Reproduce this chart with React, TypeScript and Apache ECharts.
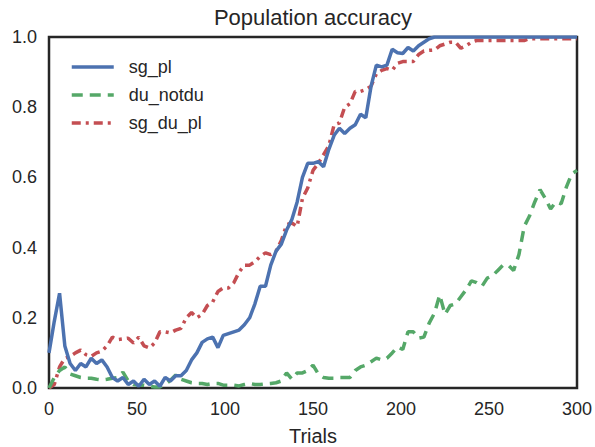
import React, { useEffect, useRef } from "react";
import * as echarts from "echarts";

const trials: number[] = [];
for (let t = 0; t <= 300; t += 3) trials.push(t);

const sgPl = [
  0.10, 0.19, 0.27, 0.12, 0.07, 0.05, 0.07, 0.06, 0.085, 0.07,
  0.08, 0.06, 0.03, 0.02, 0.03, 0.01, 0.02, 0.005, 0.025, 0.01,
  0.02, 0.005, 0.03, 0.02, 0.035, 0.035, 0.05, 0.08, 0.10, 0.13,
  0.14, 0.145, 0.115, 0.15, 0.155, 0.16, 0.165, 0.18, 0.20, 0.24,
  0.29, 0.29, 0.35, 0.39, 0.41, 0.45, 0.48, 0.53, 0.60, 0.64,
  0.64, 0.645, 0.63, 0.68, 0.72, 0.74, 0.725, 0.74, 0.75, 0.78,
  0.77, 0.86, 0.92, 0.915, 0.92, 0.965, 0.955, 0.953, 0.97, 0.96,
  0.975, 0.985, 0.995, 1, 1, 1, 1, 1, 1, 1,
  1, 1, 1, 1, 1, 1, 1, 1, 1, 1,
  1, 1, 1, 1, 1, 1, 1, 1, 1, 1,
  1,
];

const duNotdu = [
  0.0, 0.03, 0.05, 0.06, 0.04, 0.035, 0.03, 0.028, 0.028, 0.025,
  0.023, 0.025, 0.028, 0.03, 0.045, 0.02, 0.01, 0.008, 0.008, 0.005,
  0.003, 0.003, 0.01, 0.022, 0.037, 0.025, 0.02, 0.015, 0.013, 0.013,
  0.01, 0.013, 0.013, 0.008, 0.008, 0.008, 0.006, 0.01, 0.013, 0.01,
  0.01, 0.012, 0.013, 0.015, 0.02, 0.043, 0.025, 0.043, 0.043, 0.05,
  0.065, 0.04, 0.03, 0.028, 0.028, 0.03, 0.03, 0.03, 0.05, 0.06,
  0.065, 0.075, 0.085, 0.08, 0.085, 0.10, 0.117, 0.11, 0.16, 0.16,
  0.142, 0.145, 0.185, 0.213, 0.265, 0.21, 0.235, 0.24, 0.26, 0.28,
  0.305, 0.30, 0.29, 0.313, 0.32, 0.335, 0.35, 0.35, 0.335, 0.38,
  0.46, 0.49, 0.53, 0.565, 0.54, 0.51, 0.53, 0.525, 0.573, 0.61,
  0.62,
];

const sgDuPl = [
  0.0, 0.01, 0.06, 0.085, 0.09, 0.10, 0.108, 0.095, 0.09, 0.10,
  0.105, 0.12, 0.145, 0.138, 0.14, 0.142, 0.128, 0.145, 0.12, 0.114,
  0.128, 0.16, 0.16, 0.157, 0.165, 0.17, 0.20, 0.215, 0.20, 0.21,
  0.235, 0.245, 0.275, 0.285, 0.285, 0.30, 0.33, 0.35, 0.35, 0.36,
  0.375, 0.385, 0.38, 0.39, 0.42, 0.465, 0.47, 0.46, 0.54, 0.57,
  0.62, 0.64, 0.665, 0.69, 0.75, 0.755, 0.80, 0.81, 0.845, 0.845,
  0.85, 0.86, 0.895, 0.905, 0.91, 0.905, 0.925, 0.93, 0.93, 0.93,
  0.95, 0.96, 0.962, 0.963, 0.975, 0.98, 0.985, 0.985, 0.968, 0.975,
  0.985, 0.99, 0.99, 0.99, 0.99, 0.99, 0.99, 0.99, 0.99, 0.99,
  0.99, 0.995, 0.995, 0.995, 0.995, 0.995, 0.995, 0.995, 0.995, 0.995,
  0.995,
];

const xTicks = [0, 50, 100, 150, 200, 250, 300];
const yTicks = [0, 0.2, 0.4, 0.6, 0.8, 1.0];

const seriesNames = ["sg_pl", "du_notdu", "sg_du_pl"];
const seriesColors = ["#4c72b0", "#55a868", "#c44e52"];

const FONT = "Liberation Sans, Arial, sans-serif";

export default function App() {
  const ref = useRef<HTMLDivElement>(null);
  useEffect(() => {
    if (!ref.current) return;
    const chart = echarts.init(ref.current, undefined, { renderer: "svg" });
    const pair = (vals: number[]) => trials.map((t, i) => [t, vals[i]]);
    const dashes: any[] = ["solid", [11, 7], [9, 5, 3, 5]];
    const vals = [sgPl, duNotdu, sgDuPl];
    chart.setOption({
      animation: false,
      backgroundColor: "#ffffff",
      textStyle: { fontFamily: FONT },
      graphic: [
        {
          type: "text",
          x: 313,
          y: 17,
          style: {
            text: "Population accuracy",
            fontSize: 22,
            fontFamily: FONT,
            fill: "#262626",
            textAlign: "center",
            textVerticalAlign: "middle",
          },
        },
      ],
      legend: {
        orient: "vertical",
        left: 65,
        top: 53,
        itemWidth: 42,
        itemHeight: 14,
        itemGap: 10,
        itemStyle: { opacity: 0 },
        lineStyle: { width: 3.5 },
        textStyle: {
          fontSize: 18,
          color: "#262626",
          fontFamily: FONT,
          lineHeight: 18,
          padding: [0, 0, 0, 10],
        },
        data: seriesNames,
      },
      grid: {
        left: 49,
        right: 18,
        top: 37,
        bottom: 59,
        outerBoundsMode: "none",
        containLabel: false,
        show: true,
        borderColor: "#262626",
        borderWidth: 2.5,
        backgroundColor: "#ffffff",
      },
      xAxis: {
        type: "value",
        min: xTicks[0],
        max: xTicks[xTicks.length - 1],
        interval: 50,
        name: "Trials",
        nameLocation: "middle",
        nameGap: 38,
        nameTextStyle: { fontSize: 20, color: "#262626", fontFamily: FONT, lineHeight: 20 },
        axisLine: { show: false },
        axisTick: { show: false },
        splitLine: { show: false },
        axisLabel: { fontSize: 18, color: "#262626", margin: 12, fontFamily: FONT },
      },
      yAxis: {
        type: "value",
        min: yTicks[0],
        max: yTicks[yTicks.length - 1],
        interval: 0.2,
        axisLine: { show: false },
        axisTick: { show: false },
        splitLine: { show: false },
        axisLabel: {
          fontSize: 18,
          color: "#262626",
          margin: 12,
          fontFamily: FONT,
          formatter: (v: number) => v.toFixed(1),
        },
      },
      series: seriesNames.map((name, i) => ({
        name,
        type: "line",
        data: pair(vals[i]),
        showSymbol: false,
        symbol: "none",
        smooth: false,
        clip: true,
        color: seriesColors[i],
        lineStyle: { color: seriesColors[i], width: 3.5, type: dashes[i] },
        z: 3 - i + 2,
      })),
    });
    return () => chart.dispose();
  }, []);
  return (
    <div
      ref={ref}
      style={{ position: "absolute", left: 0, top: 0, width: 595, height: 447 }}
    />
  );
}
